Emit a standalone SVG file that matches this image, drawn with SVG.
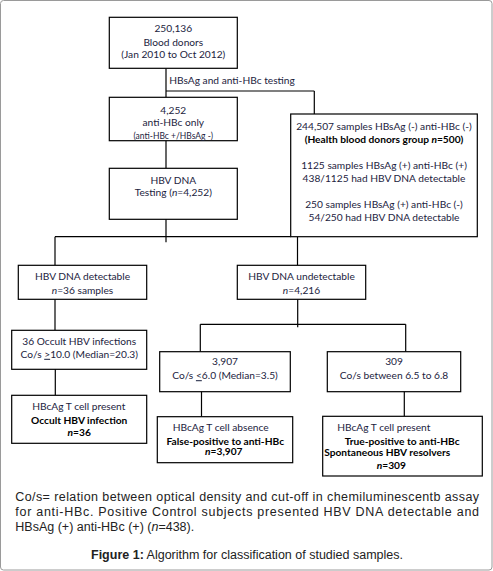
<svg xmlns="http://www.w3.org/2000/svg" width="493" height="571" viewBox="0 0 493 571">
<style>
.b{fill:#fff;stroke:#000;stroke-width:1.2}
.t{font-family:Lato,"Liberation Sans",sans-serif;font-size:10.2px;fill:#1c2340;text-anchor:middle}
.s{font-size:8.5px}
.k{font-weight:bold;fill:#000}
.l{text-anchor:start}
.c{font-family:"Liberation Sans",Arial,sans-serif;font-size:12.5px;fill:#222}
#connectors line{stroke:#000;stroke-width:1.2}
</style>
<rect x="0.5" y="0.5" width="491.5" height="569.5" rx="3" fill="#fff" stroke="#9a9a9a" stroke-width="1"/>
<g id="connectors">
<line x1="166" y1="68.3" x2="166" y2="97.3"/>
<line x1="166" y1="91" x2="314.3" y2="91"/>
<line x1="314.3" y1="91" x2="314.3" y2="114"/>
<line x1="166" y1="140.7" x2="166" y2="168.3"/>
<line x1="166" y1="211.7" x2="166" y2="242.3"/>
<line x1="55" y1="236.7" x2="290.7" y2="236.7"/>
<line x1="55" y1="236.7" x2="55" y2="265.3"/>
<line x1="297.5" y1="236.7" x2="297.5" y2="265.3"/>
<line x1="55" y1="299.3" x2="55" y2="330.3"/>
<line x1="297.7" y1="299.3" x2="297.7" y2="327.3"/>
<line x1="200.3" y1="324.3" x2="405.7" y2="324.3"/>
<line x1="200.3" y1="324.3" x2="200.3" y2="351.7"/>
<line x1="405.7" y1="324.3" x2="405.7" y2="351.7"/>
<line x1="55.3" y1="362.7" x2="55.3" y2="395.3"/>
<line x1="201.5" y1="383" x2="201.5" y2="416.7"/>
<line x1="404.3" y1="381.7" x2="404.3" y2="416.3"/>
</g>
<text class="t l" x="169.3" y="83.5">HBsAg and anti-HBc testing</text>
<g id="n1"><rect class="b" x="109.3" y="17.3" width="128" height="51"/>
<text class="t" x="173.3" y="31.8">250,136</text>
<text class="t" x="173.3" y="45.5">Blood donors</text>
<text class="t" x="173.3" y="57.8">(Jan 2010 to Oct 2012)</text></g>
<g id="n2"><rect class="b" x="109.3" y="97.3" width="128" height="43.4"/>
<text class="t" x="173.3" y="113.5">4,252</text>
<text class="t" x="173.3" y="126.2">anti-HBc only</text>
<text class="t s" x="173.3" y="138.7">(anti-HBc +/HBsAg -)</text></g>
<g id="n3"><rect class="b" x="109.3" y="168.3" width="128" height="51"/>
<text class="t" x="173.3" y="184.2">HBV DNA</text>
<text class="t" x="173.3" y="196.2">Testing (<tspan font-style="italic">n</tspan>=4,252)</text></g>
<g id="n4"><rect class="b" x="290.7" y="114" width="186.6" height="122.7"/>
<text class="t" x="384" y="129.5">244,507 samples HBsAg (-) anti-HBc (-)</text>
<text class="t k" x="384" y="142.8">(Health blood donors group <tspan font-style="italic">n</tspan>=500)</text>
<text class="t" x="384" y="168.5">1125 samples HBsAg (+) anti-HBc (+)</text>
<text class="t" x="384" y="181.8">438/1125 had HBV DNA detectable</text>
<text class="t" x="384" y="207.5">250 samples HBsAg (+) anti-HBc (-)</text>
<text class="t" x="384" y="220.8">54/250 had HBV DNA detectable</text></g>
<g id="n5"><rect class="b" x="18.3" y="265.3" width="128.4" height="34"/>
<text class="t" x="82.5" y="280.2">HBV DNA detectable</text>
<text class="t" x="82.5" y="293.5"><tspan font-style="italic">n</tspan>=36 samples</text></g>
<g id="n6"><rect class="b" x="237.3" y="265.3" width="128.4" height="34"/>
<text class="t" x="301.5" y="280.2">HBV DNA undetectable</text>
<text class="t" x="301.5" y="293.5"><tspan font-style="italic">n</tspan>=4,216</text></g>
<g id="n7"><rect class="b" x="11.7" y="330.3" width="135" height="39"/>
<text class="t" x="79.2" y="345.2">36 Occult HBV infections</text>
<text class="t" x="79.2" y="357.8">Co/s <tspan text-decoration="underline">&gt;</tspan>10.0 (Median=20.3)</text></g>
<g id="n8"><rect class="b" x="159.7" y="351.7" width="130.6" height="40"/>
<text class="t" x="225" y="365.2">3,907</text>
<text class="t" x="225" y="379.2">Co/s <tspan text-decoration="underline">&lt;</tspan>6.0 (Median=3.5)</text></g>
<g id="n9"><rect class="b" x="327.3" y="351.7" width="133.4" height="40"/>
<text class="t" x="394" y="365.2">309</text>
<text class="t" x="394" y="379.2">Co/s between 6.5 to 6.8</text></g>
<g id="n10"><rect class="b" x="11.7" y="395.3" width="135" height="48"/>
<text class="t" x="78.8" y="410.2">HBcAg T cell present</text>
<text class="t k" x="79.2" y="423.5">Occult HBV infection</text>
<text class="t k" x="79.2" y="435.8"><tspan font-style="italic">n</tspan>=36</text></g>
<g id="n11"><rect class="b" x="157.3" y="416.7" width="135.4" height="46"/>
<text class="t" x="220.7" y="431.2">HBcAg T cell absence</text>
<text class="t k" x="225.3" y="444.5">False-positive to anti-HBc</text>
<text class="t k" x="223.8" y="455.2"><tspan font-style="italic">n</tspan>=3,907</text></g>
<g id="n12"><rect class="b" x="322.7" y="416.3" width="159.6" height="59.7"/>
<text class="t" x="383.8" y="431.2">HBcAg T cell present</text>
<text class="t k" x="402.2" y="444.5">True-positive to anti-HBc</text>
<text class="t k" x="387.2" y="456.2">Spontaneous HBV resolvers</text>
<text class="t k" x="391.3" y="468.5"><tspan font-style="italic">n</tspan>=309</text></g>
<text class="c" x="15.3" y="500.5" textLength="463.7" lengthAdjust="spacing">Co/s= relation between optical density and cut-off in chemiluminescentb assay</text>
<text class="c" x="15.3" y="516" textLength="463.7" lengthAdjust="spacing">for anti-HBc. Positive Control subjects presented HBV DNA detectable and</text>
<text class="c" x="15.3" y="531">HBsAg (+) anti-HBc (+) (<tspan font-style="italic">n</tspan>=438).</text>
<text class="c" x="247" y="558.5" text-anchor="middle"><tspan font-weight="bold">Figure 1:</tspan> Algorithm for classification of studied samples.</text>
</svg>
